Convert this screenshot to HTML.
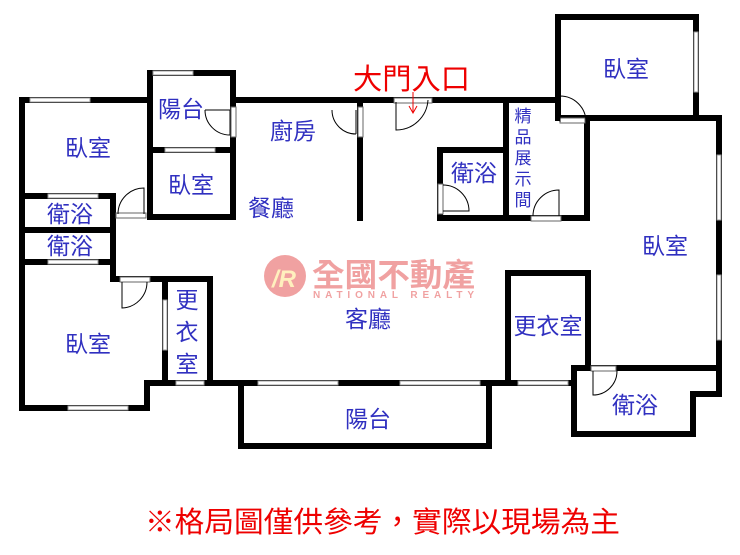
<!DOCTYPE html>
<html><head><meta charset="utf-8"><style>
html,body{margin:0;padding:0;background:#fff;}
svg{display:block;}
text{font-family:"Liberation Sans","Noto Sans CJK TC","WenQuanYi Zen Hei",sans-serif;}
.b{fill:#3030c0;font-size:23px;text-anchor:middle;}
</style></head><body>
<svg width="740" height="555" viewBox="0 0 740 555" xmlns="http://www.w3.org/2000/svg">
<g fill="none" stroke="#000" stroke-width="6" stroke-linecap="square" stroke-linejoin="miter">
<polyline points="148,100 22,100 22,408 147,408 147,383 241,383"/>
<line x1="22" y1="196" x2="113" y2="196"/>
<line x1="22" y1="230" x2="113" y2="230"/>
<line x1="22" y1="262" x2="113" y2="262"/>
<polyline points="113,196 113,279 210,279 210,383"/>
<line x1="165" y1="279" x2="165" y2="383"/>
<polyline points="150,100 150,73 233,73 233,217 150,217 150,100"/>
<line x1="150" y1="150" x2="233" y2="150"/>
<line x1="233" y1="100" x2="558" y2="100"/>
<line x1="360" y1="100" x2="360" y2="218"/>
<polyline points="506,100 506,218 440,218 440,150 506,150"/>
<polyline points="506,218 587,218 587,118"/>
<polyline points="558,118 558,17 696,17 696,118"/>
<polyline points="558,118 719,118 719,394 693,394 693,434 574,434 574,368 719,368"/>
<polyline points="508,383 508,273 588,273 588,368"/>
<line x1="241" y1="383" x2="574" y2="383"/>
<polyline points="241,383 241,446 489,446 489,383"/>
</g>
<g fill="#fff" stroke="#999" stroke-width="1">
<rect x="30" y="98" width="60" height="4"/>
<rect x="153" y="71" width="40" height="4"/>
<rect x="165" y="148" width="50" height="4"/>
<rect x="48" y="194" width="50" height="4"/>
<rect x="48" y="260" width="50" height="4"/>
<rect x="68" y="406" width="60" height="4"/>
<rect x="163" y="300" width="4" height="50"/>
<rect x="258" y="381" width="80" height="4"/>
<rect x="400" y="381" width="80" height="4"/>
<rect x="176" y="381" width="28" height="4"/>
<rect x="518" y="381" width="50" height="4"/>
<rect x="694" y="32" width="4" height="60"/>
<rect x="717" y="155" width="4" height="65"/>
<rect x="717" y="275" width="4" height="65"/>
<rect x="394" y="98" width="38" height="5" stroke="#666"/>
<rect x="116" y="213" width="30" height="5" stroke="#666"/>
<rect x="120" y="277" width="30" height="5" stroke="#666"/>
<rect x="560" y="118" width="25" height="5" stroke="#666"/>
<rect x="531" y="216" width="30" height="5" stroke="#666"/>
<rect x="438" y="184" width="5" height="30" stroke="#666"/>
<rect x="231" y="107" width="5" height="30" stroke="#666"/>
<rect x="358" y="107" width="5" height="30" stroke="#666"/>
<rect x="591" y="366" width="25" height="5" stroke="#666"/>
</g>
<g fill="none" stroke="#000" stroke-width="1">
<path d="M205,110 A25,25 0 0 0 230,135 M230,110 L230,135 M205,110 L230,110"/>
<path d="M332,110 A24,24 0 0 0 356,134 M356,110 L356,134"/>
<path d="M396,102 L396,130 A32,32 0 0 0 428,100"/>
<path d="M118,214 A26,26 0 0 1 144,188 L144,214"/>
<path d="M122,282 L122,308 A26,26 0 0 0 147,282"/>
<path d="M560,122 L560,96 A26,26 0 0 1 586,122"/>
<path d="M533,216 A26,26 0 0 1 559,190 L559,216"/>
<path d="M443,185 A26,26 0 0 1 469,211 L443,211"/>
<path d="M593,371 L593,395 A24,24 0 0 0 617,371"/>
</g>
<g stroke="#e00" stroke-width="1" fill="none"><line x1="413" y1="92" x2="413" y2="112"/><path d="M409,106 L413,113 L417,106"/></g>
<g opacity="0.45">
<circle cx="285" cy="276" r="21" fill="#e03030"/>
<text x="272" y="287" font-size="24" font-style="italic" font-weight="bold" fill="#ffe070">/R</text>
<text x="312" y="286" font-size="32" font-weight="bold" fill="#e03030" textLength="163" lengthAdjust="spacingAndGlyphs">全國不動產</text>
<text x="313" y="298" font-size="10" font-weight="bold" fill="#e03030" textLength="161" lengthAdjust="spacing">NATIONAL REALTY</text>
</g>
<text class="b" x="88" y="156">臥室</text>
<text class="b" x="191" y="193">臥室</text>
<text class="b" x="181" y="117">陽台</text>
<text class="b" x="293" y="139">廚房</text>
<text class="b" x="271" y="216">餐廳</text>
<text class="b" x="70" y="222">衛浴</text>
<text class="b" x="70" y="254">衛浴</text>
<text class="b" x="88" y="352">臥室</text>
<text class="b" x="187" y="308">更</text>
<text class="b" x="187" y="340">衣</text>
<text class="b" x="187" y="372">室</text>
<text class="b" x="368" y="327">客廳</text>
<text class="b" x="368" y="427">陽台</text>
<text class="b" x="548" y="334">更衣室</text>
<text class="b" x="635" y="413">衛浴</text>
<text class="b" x="665" y="254">臥室</text>
<text class="b" x="626" y="77">臥室</text>
<text class="b" x="474" y="181">衛浴</text>
<g fill="#3030c0" font-size="17" text-anchor="middle"><text x="523" y="122">精</text><text x="523" y="143">品</text><text x="523" y="164">展</text><text x="523" y="185">示</text><text x="523" y="206">間</text></g>
<text x="353" y="89" font-size="29" fill="#e00" textLength="117" lengthAdjust="spacingAndGlyphs">大門入口</text>
<text x="145" y="532" font-size="29" fill="#e00" textLength="475" lengthAdjust="spacingAndGlyphs">※格局圖僅供參考，實際以現場為主</text>
</svg>
</body></html>
